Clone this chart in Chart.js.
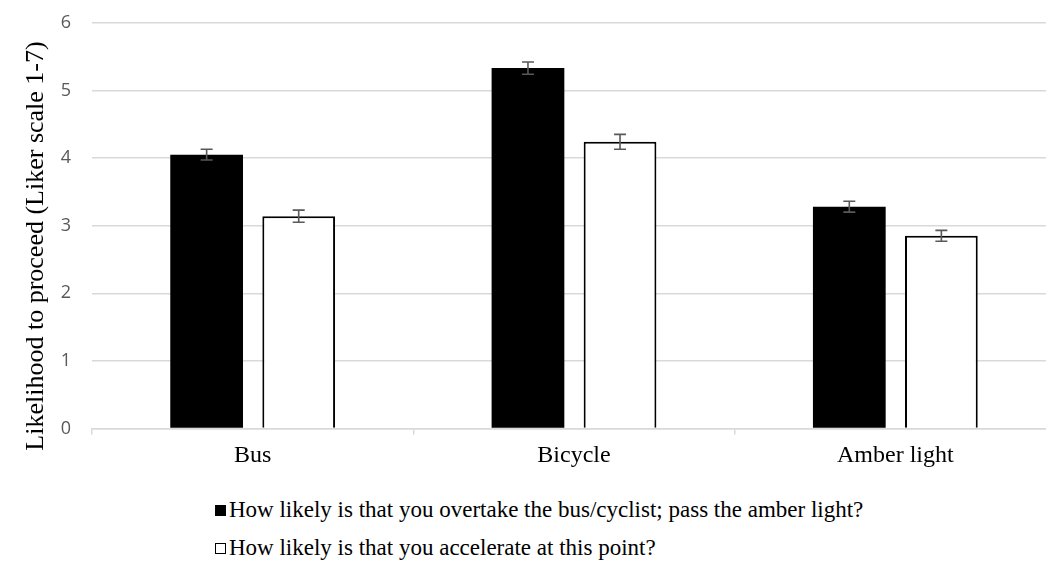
<!DOCTYPE html>
<html>
<head>
<meta charset="utf-8">
<script src="https://cdn.jsdelivr.net/npm/chart.js@4/dist/chart.umd.min.js"></script>
<style>
  html, body { margin: 0; padding: 0; background: #fff; overflow: hidden; width: 1046px; height: 563px; }
  #wrap { position: absolute; left: 0; top: -9px; width: 1060px; height: 479px; }
  .leg { position: absolute; left: 215px; font-family: "Liberation Serif", "Times New Roman", serif; font-size: 23px; line-height: 26px; color: #000; white-space: nowrap; display: flex; align-items: center; }
  .box { width: 11px; height: 11px; box-sizing: border-box; margin-right: 3px; border: 1px solid #000; }
</style>
</head>
<body>
<div id="wrap"><canvas id="c"></canvas></div>
<div id="legend"></div>
<script>
const categories = ["Bus", "Bicycle", "Amber light"];
const seriesLabels = [
  "How likely is that you overtake the bus/cyclist; pass the amber light?",
  "How likely is that you accelerate at this point?"
];
const yTitle = "Likelihood to proceed (Liker scale 1-7)";
const overtakeValues = [4.05, 5.33, 3.28];
const overtakeErrors = [0.08, 0.09, 0.08];
const accelerateValues = [3.14, 4.24, 2.85];
const accelerateErrors = [0.09, 0.11, 0.08];
const yTicks = [0, 1, 2, 3, 4, 5, 6];

const errorBarPlugin = {
  id: 'errorBars',
  afterDatasetsDraw(chart) {
    const ctx = chart.ctx;
    const y = chart.scales.y;
    ctx.save();
    ctx.strokeStyle = '#595959';
    ctx.lineWidth = 1.6;
    chart.data.datasets.forEach((ds, di) => {
      const meta = chart.getDatasetMeta(di);
      meta.data.forEach((bar, i) => {
        const v = ds.data[i], e = ds.errors[i];
        const x = bar.x;
        const yt = y.getPixelForValue(v + e);
        const yb = y.getPixelForValue(v - e);
        ctx.beginPath();
        ctx.moveTo(x, yt); ctx.lineTo(x, yb);
        ctx.moveTo(x - 6, yt); ctx.lineTo(x + 6, yt);
        ctx.moveTo(x - 6, yb); ctx.lineTo(x + 6, yb);
        ctx.stroke();
      });
    });
    ctx.restore();
  }
};

const yTitlePlugin = {
  id: 'yTitle',
  afterDraw(chart) {
    const ctx = chart.ctx;
    ctx.save();
    ctx.translate(36, 255);
    ctx.rotate(-Math.PI / 2);
    ctx.font = '26px "Liberation Serif", "Times New Roman", serif';
    ctx.fillStyle = '#000';
    ctx.textAlign = 'center';
    ctx.textBaseline = 'middle';
    ctx.fillText(yTitle, 0, 0);
    ctx.restore();
  }
};

const chart = new Chart(document.getElementById('c'), {
  type: 'bar',
  data: {
    labels: categories,
    datasets: [
      { label: seriesLabels[0], data: overtakeValues, errors: overtakeErrors,
        backgroundColor: '#000000', borderColor: '#000000', borderWidth: 0 },
      { label: seriesLabels[1], data: accelerateValues, errors: accelerateErrors,
        backgroundColor: '#ffffff', borderColor: '#000000', borderWidth: 2, borderSkipped: 'bottom' }
    ]
  },
  options: {
    responsive: true,
    maintainAspectRatio: false,
    animation: false,
    categoryPercentage: 0.573,
    barPercentage: 0.79,
    layout: { padding: { left: 0, right: 4, top: 3, bottom: 0 } },
    plugins: { legend: { display: false }, tooltip: { enabled: false } },
    scales: {
      x: {
        afterFit(scale) { scale.height = 41.5; },
        grid: { display: true, offset: true, drawOnChartArea: false, drawTicks: true, tickLength: 6, color: '#d9d9d9', lineWidth: 1.5 },
        border: { display: true, color: '#d9d9d9', width: 1.5 },
        ticks: { color: '#000', font: { family: '"Liberation Serif", "Times New Roman", serif', size: 24 }, padding: 7 }
      },
      y: {
        min: 0, max: 6,
        afterFit(scale) { scale.width = 92; },
        afterBuildTicks(scale) { scale.ticks = yTicks.map(v => ({ value: v })); },
        grid: { color: '#d9d9d9', lineWidth: 1.5, drawTicks: false },
        border: { display: false },
        ticks: { color: '#595959', font: { family: '"Open Sans", sans-serif', size: 18 }, padding: 21 }
      }
    }
  },
  plugins: [errorBarPlugin, yTitlePlugin]
});

const legend = document.getElementById('legend');
const fills = ['#000000', '#ffffff'];
const tops = [497, 535];
seriesLabels.forEach((t, i) => {
  const d = document.createElement('div');
  d.className = 'leg';
  d.style.top = tops[i] + 'px';
  const b = document.createElement('span');
  b.className = 'box';
  b.style.background = fills[i];
  const s = document.createElement('span');
  s.textContent = t;
  d.appendChild(b); d.appendChild(s);
  legend.appendChild(d);
});
</script>
</body>
</html>
